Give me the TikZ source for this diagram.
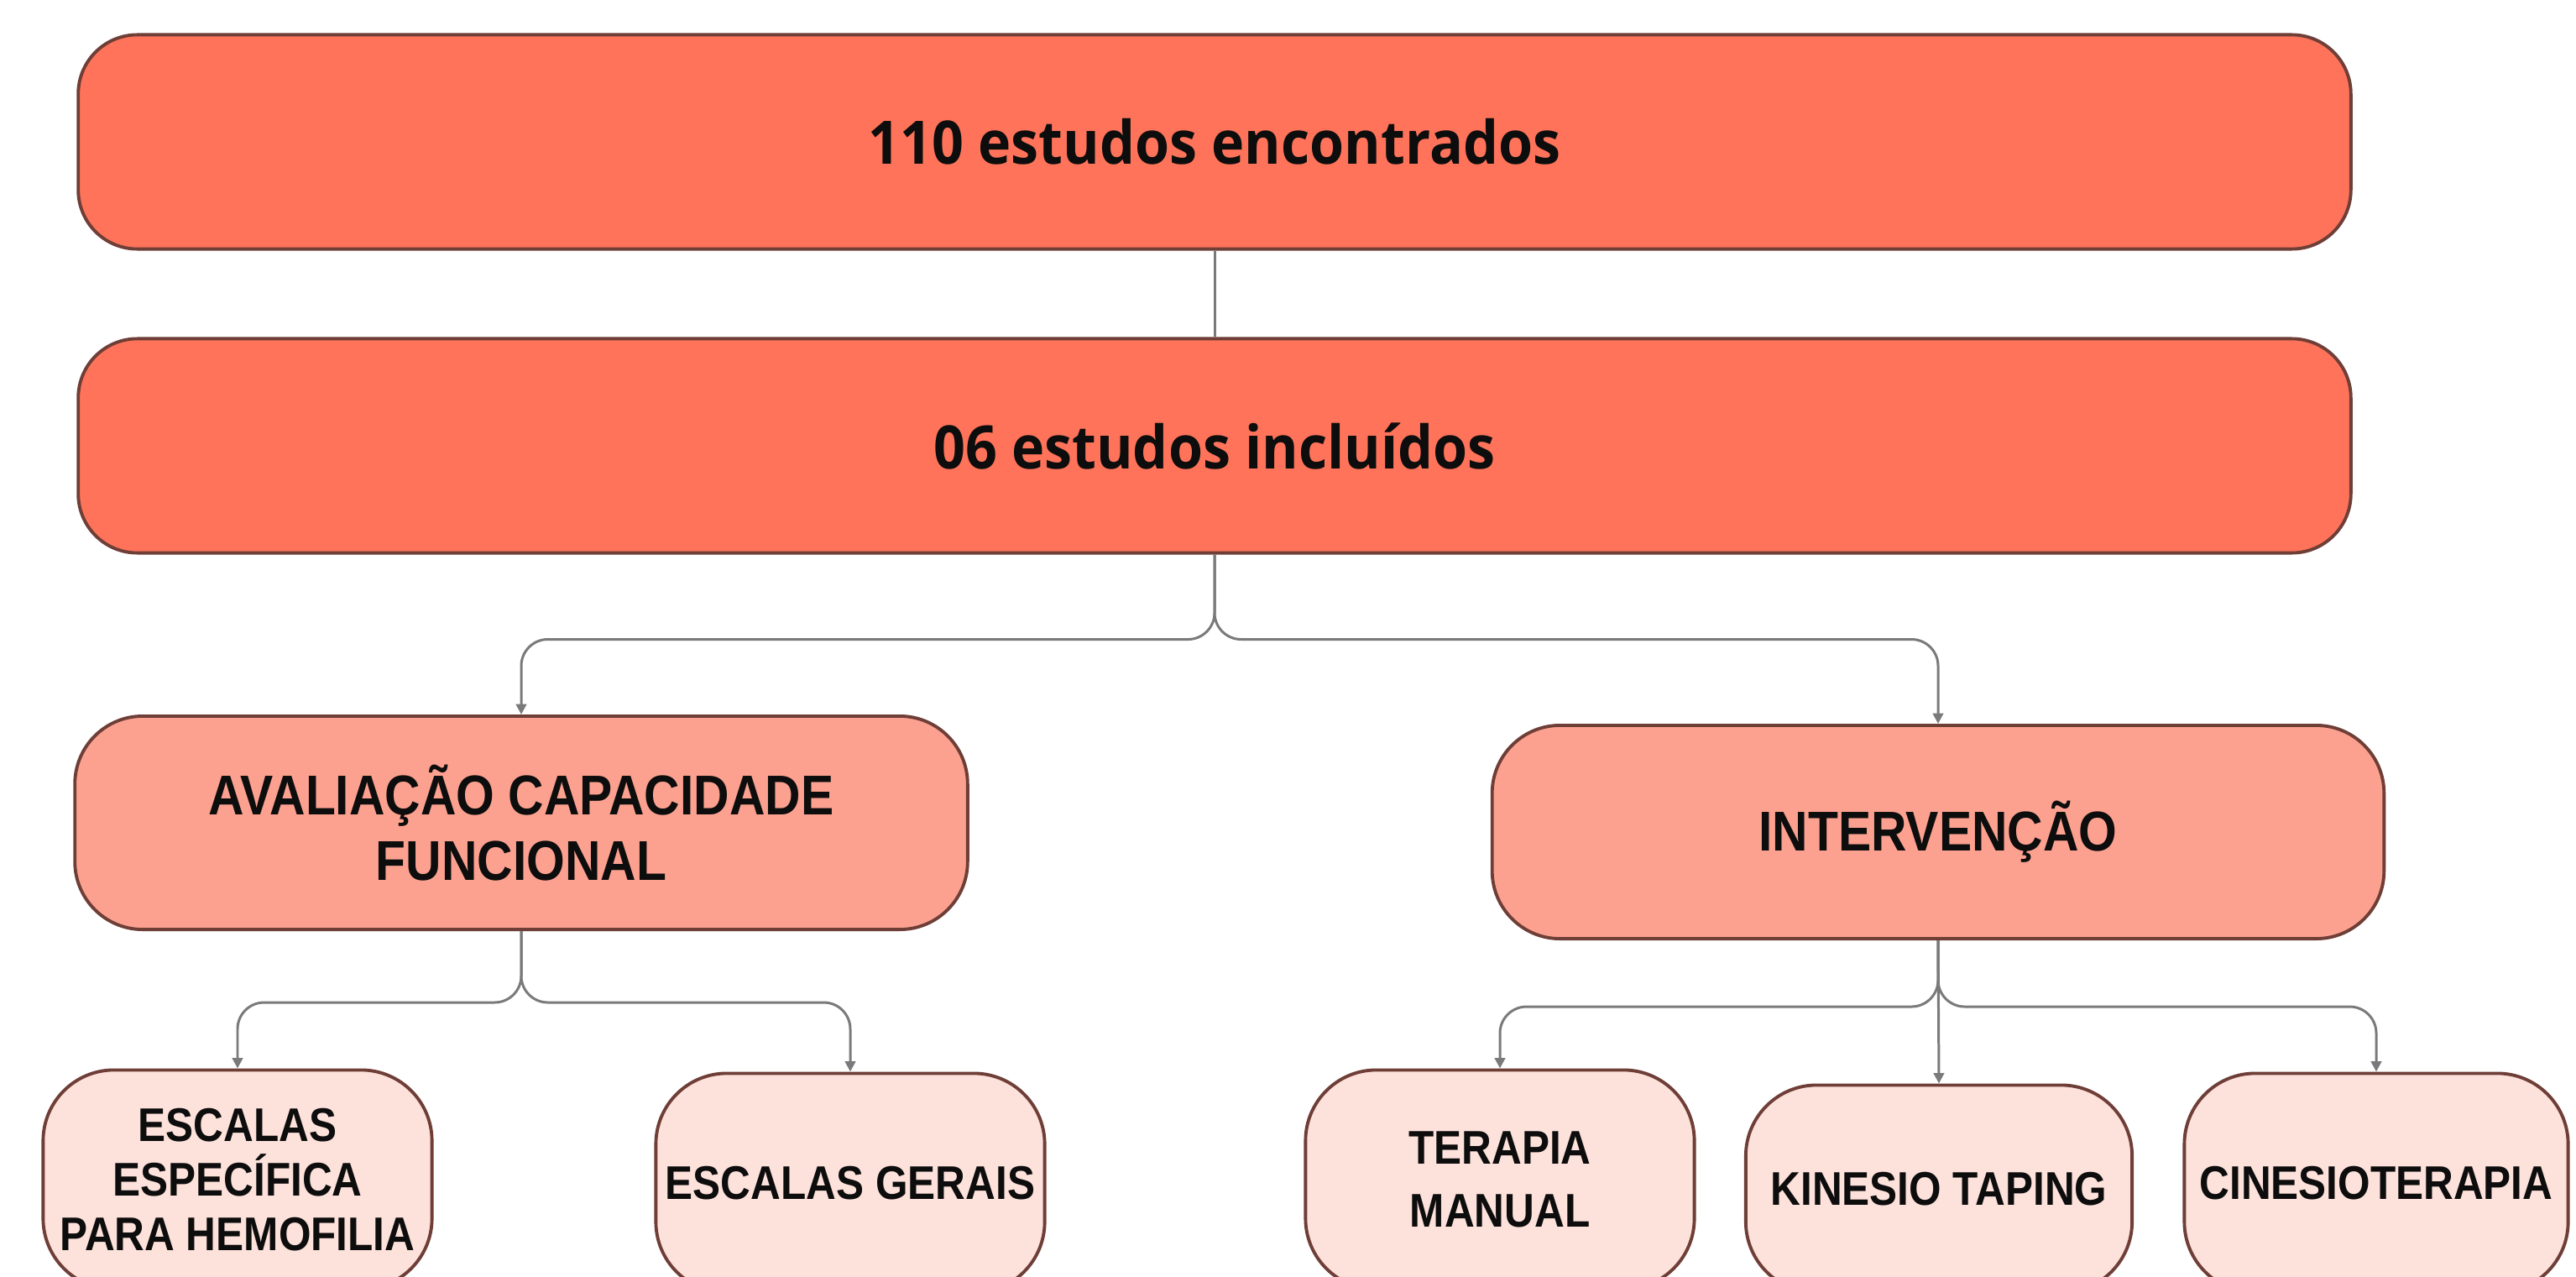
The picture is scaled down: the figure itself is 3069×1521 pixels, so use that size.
\documentclass[tikz,border=0pt]{standalone}
\usepackage{fontspec}
\setmainfont{Liberation Sans}
\newfontfamily\topfont[FakeStretch=0.93]{Open Sans}
\newfontfamily\capfont[FakeStretch=0.88]{Liberation Sans}
\usetikzlibrary{arrows.meta}
\definecolor{topfill}{HTML}{FE7359}
\definecolor{midfill}{HTML}{FCA190}
\definecolor{lowfill}{HTML}{FDE1DB}
\definecolor{edge}{HTML}{6E3E37}
\definecolor{conncol}{HTML}{7A7A7A}
\tikzset{
  box/.style={draw=edge, line width=1.1pt, rounded corners=20pt, inner sep=0pt, align=center, text=black!95},
  topbox/.style={box, fill=topfill, minimum width=27.06cm, minimum height=2.55cm,
     font=\topfont\bfseries\fontsize{20.3}{24}\selectfont},
  midbox/.style={box, rounded corners=23pt, fill=midfill, minimum width=10.62cm, minimum height=2.54cm,
     font=\capfont\bfseries\fontsize{19}{22}\selectfont},
  lowbox/.style={box, rounded corners=24pt, fill=lowfill, minimum width=4.63cm, minimum height=2.61cm,
     font=\capfont\bfseries\fontsize{16}{18.5}\selectfont},
  conn/.style={draw=conncol, line width=0.85pt, rounded corners=9pt},
  connarrow/.style={conn, -{Triangle[length=3.5pt,width=3.5pt]}}
}
\begin{document}
\begin{tikzpicture}[x=0.01cm,y=-0.01cm]
\useasboundingbox (0,0) rectangle (3069,1521);
\fill[white] (0,0) rectangle (3069,1521);
\clip (0,0) rectangle (3069,1521);

\node[topbox] (found) at (1447,169) {110 estudos encontrados};
\node[topbox] (incl) at (1447,531) {06 estudos incluídos};

\node[midbox, minimum width=10.63cm] (aval) at (621,980) {AVALIAÇÃO CAPACIDADE\\FUNCIONAL};
\node[midbox] (interv) at (2309,991) {INTERVENÇÃO};

\node[lowbox, font=\capfont\bfseries\fontsize{16}{18.5}\selectfont] (esp) at (283,1405) {ESCALAS\\ESPECÍFICA\\PARA HEMOFILIA};
\node[lowbox] (gerais) at (1013,1409) {ESCALAS GERAIS};
\node[lowbox, font=\capfont\bfseries\fontsize{16}{21.5}\selectfont] (manual) at (1787,1405) {TERAPIA\\MANUAL};
\node[lowbox, minimum height=2.47cm, minimum width=4.6cm] (kinesio) at (2310,1416) {KINESIO TAPING};
\node[lowbox, minimum width=4.57cm] (cinesio) at (2831,1409) {CINESIOTERAPIA};

\draw[conn] (found.south) -- (incl.north);

\draw[connarrow] (incl.south) -- ++(0,101) -| (aval.north);
\draw[connarrow] (incl.south) -- ++(0,101) -| (interv.north);

\draw[connarrow] (aval.south) -- ++(0,85) -| (esp.north);
\draw[connarrow] (aval.south) -- ++(0,85) -| (gerais.north);

\draw[connarrow] (interv.south) -- ++(0,79) -| (manual.north);
\draw[connarrow] (interv.south) -- (kinesio.north);
\draw[connarrow] (interv.south) -- ++(0,79) -| (cinesio.north);
\end{tikzpicture}
\end{document}
